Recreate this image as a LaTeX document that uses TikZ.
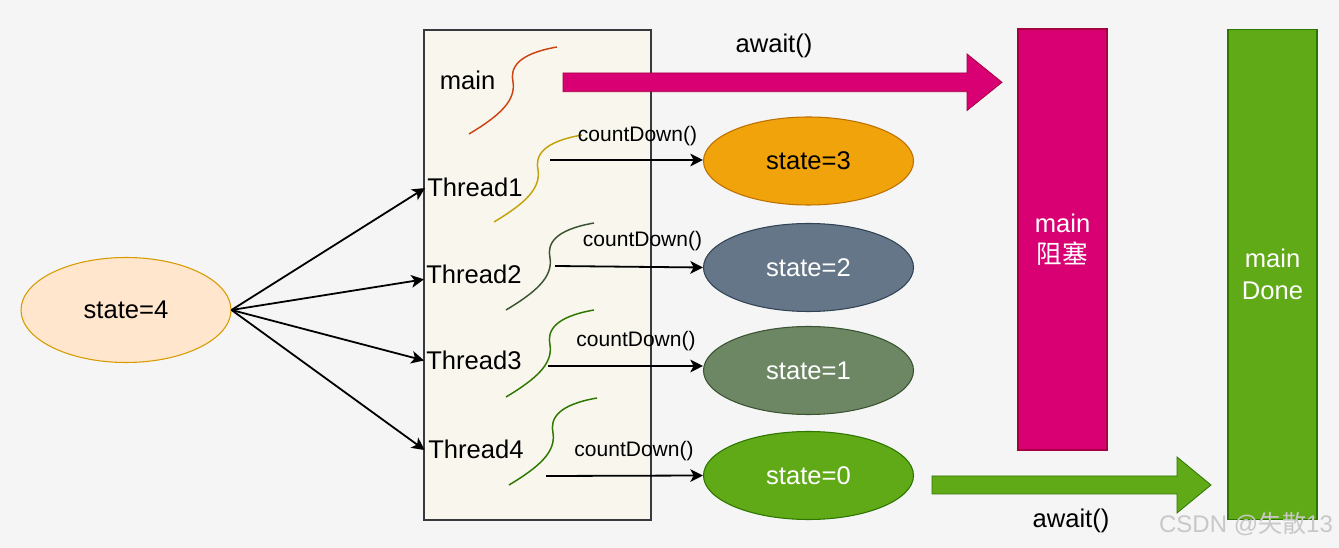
\documentclass[tikz,border=0pt]{standalone}
\usepackage{fontspec}
\setmainfont{Liberation Sans}
\newfontfamily\cjk{Noto Sans CJK SC}
\usetikzlibrary{shapes,arrows.meta,calc}
\usepackage{xcolor}
\definecolor{bgcol}{HTML}{F5F5F5}
\definecolor{boxfill}{HTML}{F9F7ED}
\definecolor{boxline}{HTML}{36393D}
\definecolor{s4fill}{HTML}{FFE6CC}
\definecolor{s4line}{HTML}{D79B00}
\definecolor{s3fill}{HTML}{F0A30A}
\definecolor{s3line}{HTML}{BD7000}
\definecolor{s2fill}{HTML}{647687}
\definecolor{s2line}{HTML}{314354}
\definecolor{s1fill}{HTML}{6D8764}
\definecolor{s1line}{HTML}{3A5431}
\definecolor{s0fill}{HTML}{60A917}
\definecolor{s0line}{HTML}{2D7600}
\definecolor{magfill}{HTML}{D80073}
\definecolor{magline}{HTML}{A50040}
\definecolor{sqmain}{HTML}{CC4411}
\definecolor{sqone}{HTML}{C2A20C}
\definecolor{wmgray}{HTML}{C8C8C8}
\newcommand{\lblfont}{\fontsize{19.2}{23.5}\selectfont}
\newcommand{\cdfont}{\fontsize{15.75}{18}\selectfont}

\begin{document}
\begin{tikzpicture}[x=0.75pt,y=-0.75pt,
    every node/.style={inner sep=0pt,font=\lblfont},
    statenode/.style={ellipse,draw,line width=0.8pt,minimum width=157.5pt,minimum height=66pt},
    conn/.style={line width=1.35pt,-{Stealth[length=9.5pt,width=9.5pt,inset=2.5pt]}},
    bar/.style={draw,line width=0.8pt,minimum width=66.75pt,text=white,align=center}]
        \fill[bgcol] (0,0) rectangle (1339,548);
        \useasboundingbox (0,0) rectangle (1339,548);
        % thread box
        \node[draw=boxline,fill=boxfill,line width=0.9pt,minimum width=170.25pt,minimum height=367.5pt] (box) at (537.5,275) {};
        \node (mainlbl) at (467.5,80.5) {main};
        \node[anchor=west] (t1) at (427,187) {Thread1};
        \node[anchor=west] (t2) at (426,274) {Thread2};
        \node[anchor=west] (t3) at (426,360.5) {Thread3};
        \node[anchor=west] (t4) at (428,449) {Thread4};
        % squiggles
        \foreach \sx/\sy/\col in {469/134/sqmain, 494/222/sqone, 506/310/s1line, 506/397/s0line, 509/485/s0line}
            \draw[\col,line width=1.1pt,shift={(\sx,\sy)}] (0,0) .. controls (30,-18) and (47,-33) .. (44,-52) .. controls (41,-66) and (48,-80) .. (88,-87);
        % states
        \node[statenode,fill=s4fill,draw=s4line,minimum height=78.75pt] (s4) at (126,310) {state=4};
        \node[statenode,fill=s3fill,draw=s3line] (s3) at (808.5,161) {state=3};
        \node[statenode,fill=s2fill,draw=s2line,text=white] (s2) at (808.5,267.5) {state=2};
        \node[statenode,fill=s1fill,draw=s1line,text=white] (s1) at (808.5,370.5) {state=1};
        \node[statenode,fill=s0fill,draw=s0line,text=white] (s0) at (808.5,475.5) {state=0};
        \draw[conn] (s4.east) -- ([xshift=-1.5pt,yshift=-0.8pt]t1.west);
        \draw[conn] (s4.east) -- ([xshift=-1.5pt,yshift=-4pt]t2.west);
        \draw[conn] (s4.east) -- ([xshift=-1.5pt]t3.west);
        \draw[conn] (s4.east) -- ([xshift=-2.5pt,yshift=-0.8pt]t4.west);
        % countDown
        \coordinate (c1) at (550,160);
        \coordinate (c2) at (555,266);
        \coordinate (c3) at (548,366);
        \coordinate (c4) at (546,476);
        \draw[conn] (c1) -- (c1 -| s3.west);
        \draw[conn] (c2) -- (s2.west);
        \draw[conn] (c3) -- (c3 -| s1.west);
        \draw[conn] (c4) -- (s0.west);
        \node[font=\cdfont] (cd1) at (637.5,136) {countDown()};
        \node[font=\cdfont] (cd2) at (642.5,241) {countDown()};
        \node[font=\cdfont] (cd3) at (636,341) {countDown()};
        \node[font=\cdfont] (cd4) at (634,451) {countDown()};
        % main blocked / done
        \node[bar,fill=magfill,draw=magline,minimum height=315.75pt] (blocked) at (1062.5,239.5) {main\\{\cjk 阻塞}};
        \node[bar,fill=s0fill,draw=s0line,minimum height=367.5pt] (done) at (1272.5,274.5) {main\\Done};
        \filldraw[fill=magfill,draw=magline,line width=0.6pt] (563,73) -- (967,73) -- (967,54) -- (1002,82.3) -- (967,110.5) -- (967,91.7) -- (563,91.7) -- cycle;
        \node (await1) at (774,46) {await()};
        \filldraw[fill=s0fill,draw=s0line,line width=0.6pt] (932,476) -- (1177,476) -- (1177,457) -- (1211,485) -- (1177,513) -- (1177,494) -- (932,494) -- cycle;
        \node (await2) at (1071,520.5) {await()};
        \node[text=wmgray,font=\fontsize{18}{20}\selectfont] (wm) at (1246,524) {CSDN @{\cjk 失散}13};
      \end{tikzpicture}
\end{document}
